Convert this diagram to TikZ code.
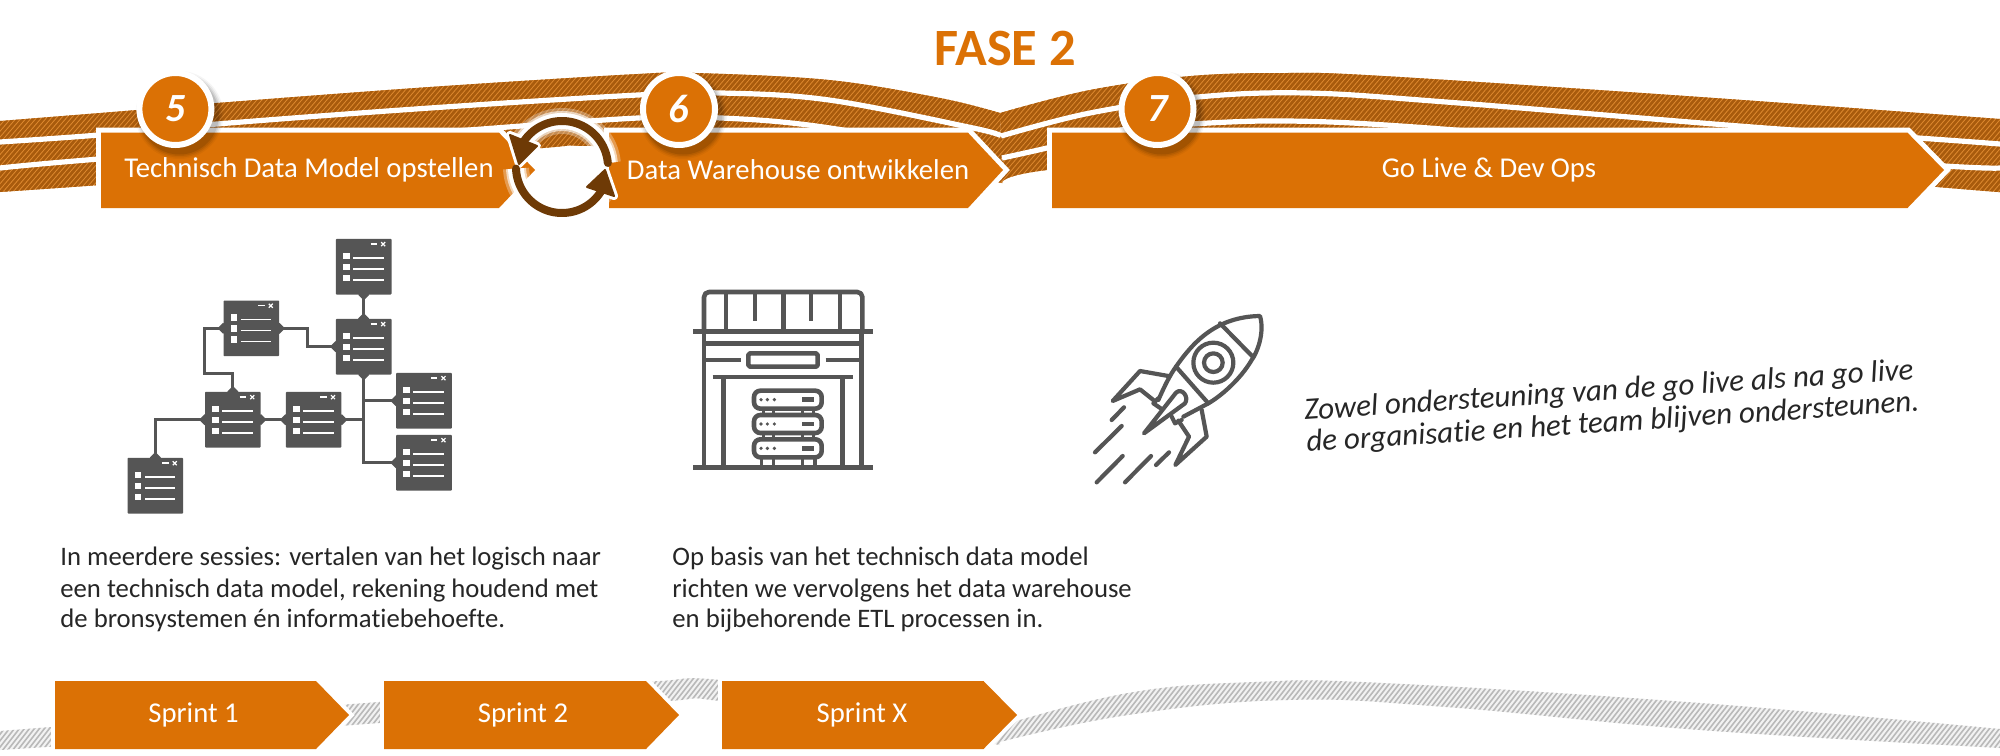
\documentclass[tikz,border=0pt]{standalone}
\usepackage{fontspec}
\setmainfont{Carlito}[Ligatures=NoCommon]
\usetikzlibrary{calc}
\definecolor{org}{HTML}{DB7105}
\definecolor{hatchA}{HTML}{DF8A30}
\definecolor{hatchB}{HTML}{A85B0D}
\definecolor{icn}{HTML}{555555}
\definecolor{cyc}{HTML}{6E3A06}
\definecolor{txt}{HTML}{262626}
\tikzset{
 x=0.5pt,y=-0.5pt,
 chev/.style={preaction={draw=white,line width=5pt,line join=miter},fill=org},
 cheb/.style={text=white,font=\fontsize{14.35}{17}\selectfont,inner sep=0},
 sprint/.style={preaction={draw=white,line width=4pt,line join=miter},fill=org},
 whiteline/.style={draw=white,line width=2.6pt},
 badge/.style={circle,fill=org,draw=white,line width=3pt,minimum size=36pt,inner sep=0,text=white,font=\fontsize{20}{24}\selectfont\bfseries\itshape},
 winbox/.style={fill=icn,draw=none,rounded corners=0.4pt,minimum size=27.8pt,inner sep=0},
 wire/.style={draw=icn,line width=1.5pt},
 para/.style={anchor=base west,text=txt,inner sep=0,font=\fontsize{13.35}{16}\selectfont},
 ital/.style={anchor=base west,text=txt,inner sep=0,rotate=3.8,font=\fontsize{15.5}{18}\selectfont\itshape},
 icline/.style={draw=icn,line width=2.3pt},
 rkline/.style={draw=icn,line width=2.1pt,line cap=round,line join=round},
}
\newcommand{\hatchfill}[3]{%
 \begin{scope}
 \fill[#1] #3;
 \clip #3;
 \foreach \i in {-20,...,420}{\draw[#2,line width=1.35pt] ({\i*5},210) -- ({\i*5+120},70);}
 \end{scope}}
\newcommand{\grayfill}[1]{%
 \begin{scope}
 \fill[gray!10] #1;
 \clip #1;
 \foreach \i in {-20,...,420}{\draw[gray!55,line width=0.8pt] ({\i*5},760) -- ({\i*5+70},670);}
 \end{scope}}
\newcommand{\dbwin}[3]{%
 \node[winbox] (#1) at (#2,#3) {};
 \begin{scope}[shift={(#1.north west)},x=0.16667pt,y=-0.16667pt]
  \draw[white,line width=0.7pt] (105,17) -- (125,17);
  \draw[white,line width=0.6pt] (137,11) -- (149,23) (149,11) -- (137,23);
  \foreach \yy in {42,75,108}{
   \fill[white] (23,\yy) rectangle (43,\yy+20);
   \draw[white,line width=0.7pt] (53,\yy+16) -- (145,\yy+16);
  }
 \end{scope}}
\newcommand{\diam}[1]{\fill[icn] ($(#1)+(-5.5,0)$) -- ($(#1)+(0,-5.5)$) -- ($(#1)+(5.5,0)$) -- ($(#1)+(0,5.5)$) -- cycle;}
\newcommand{\softshadow}[3]{%
 \foreach \rr/\oo in {44/.04,42.5/.06,41/.08,39.5/.10}{\fill[black,opacity=\oo] (#1+#2,#3) circle (\rr);}}
\begin{document}
\begin{tikzpicture}
\useasboundingbox (0,0) rectangle (2000,755);
\fill[white] (0,0) rectangle (2000,755);

% gray ribbon
\grayfill{plot[smooth,tension=.6] coordinates {(0,731)(180,717)(379,702)(560,688)(660,681)(720,680)(900,705)(1000,735)} -- (1000,745) -- plot[smooth,tension=.6] coordinates {(900,730)(720,701)(656,702)(379,723)(180,738)(0,750)} -- cycle}
\grayfill{plot[smooth,tension=.7] coordinates {(1000,726)(1128,693)(1255,682)(1383,683)(1700,703)(2000,729)} -- plot[smooth,tension=.7] coordinates {(2000,748)(1700,730)(1446,707)(1287,700)(1128,715)(1000,742)} -- cycle}

% orange ribbons
\hatchfill{hatchA}{hatchB}{plot[smooth,tension=.6] coordinates {(0,121)(137,110)(217,103)(430,87)(638,74)(695,73)(829,80)(940,98)(1000,113)} -- (1002,183) -- plot[smooth,tension=.6] coordinates {(800,150)(592,146)(543,148)(300,170)(100,185)(0,192)} -- cycle}
\hatchfill{hatchA}{hatchB}{plot[smooth,tension=.6] coordinates {(1000,113)(1090,90)(1191,76)(1287,73)(1383,76)(1700,97)(2000,119)} -- plot[smooth,tension=.6] coordinates {(2000,192)(1937,187)(1500,150)(1290,148)(1047,170)(1002,183)} -- cycle}

% white lines of the ribbons
\draw[whiteline] plot[smooth,tension=.6] coordinates {(0,142)(99,135)(217,124)(430,108)(638,95)(721,93)(829,100)(973,128)(1001,136)};
\draw[whiteline] plot[smooth,tension=.6] coordinates {(1001,136)(1090,113)(1198,97)(1306,93)(1446,102)(1752,127)(1918,138)(2000,144)};
\draw[whiteline] plot[smooth,tension=.6] coordinates {(0,168)(99,159)(430,133)(638,118)(721,118)(816,126)(960,150)};
\draw[whiteline] plot[smooth,tension=.6] coordinates {(1002,158)(1047,148)(1121,130)(1191,124)(1287,121)(1415,127)(1700,150)(1944,166)(2000,168)};

% main chevrons
\path[chev] (101,132.7) -- (499,132.7) -- (535,170) -- (499,208) -- (101,208) -- cycle;
\path[chev] (609,132.7) -- (968,132.7) -- (1003,170) -- (968,208) -- (609,208) -- cycle;
\path[chev] (1052,132.7) -- (1907.5,132.7) -- (1944,170) -- (1907.5,208) -- (1052,208) -- cycle;
\node[cheb] (t5) at (309,170) {Technisch Data Model opstellen};
\node[cheb] (t6) at (798,170) {Data Warehouse ontwikkelen};
\node[cheb] (t7) at (1489,170) {Go Live \& Dev Ops};

% cycle icon
\foreach \cw/\co in {26/.3,20/.6,16/1}{
 \draw[white,opacity=\co,line width=\cw*0.5pt] plot[domain=-5:-147,samples=40] ({562+46*cos(\x)},{167+46*sin(\x)});
 \draw[white,opacity=\co,line width=\cw*0.5pt] plot[domain=178:33,samples=40] ({562+46*cos(\x)},{167+46*sin(\x)});
}
\draw[white,fill=white,line width=4pt,line join=round] (510,135) -- (537,146) -- (519,164) -- cycle (587,187) -- (614,196) -- (605,170) -- cycle;
\draw[cyc,line width=4pt,line cap=round] plot[domain=-5:-147,samples=40] ({562+46*cos(\x)},{167+46*sin(\x)});
\draw[cyc,line width=4pt,line cap=round] plot[domain=178:33,samples=40] ({562+46*cos(\x)},{167+46*sin(\x)});
\fill[cyc,draw=cyc,line width=1pt,line join=round] (510,135) -- (537,146) -- (519,164) -- cycle (587,187) -- (614,196) -- (605,170) -- cycle;

% badges
\softshadow{175.4}{4}{115}
\softshadow{679}{4}{115}
\softshadow{1157.5}{4}{115}
\node[badge] (b5) at (175.4,109) {5};
\node[badge] (b6) at (679,109) {6};
\node[badge] (b7) at (1157.5,109) {7};

% title
\node[text=org,inner sep=0,font=\fontsize{26.2}{30}\selectfont\bfseries] (title) at (1005,48) {FASE 2};

% data model icon
\dbwin{A}{363.7}{266.7}
\dbwin{B}{363.7}{346.7}
\dbwin{C}{251.3}{328.3}
\dbwin{D}{232.8}{419.7}
\dbwin{E}{313.6}{419.7}
\dbwin{F}{424}{400.7}
\dbwin{G}{424}{462.7}
\dbwin{H}{155.3}{485.7}
\draw[wire] (A.south) -- (B.north);
\draw[wire] (C.west) -- ++(-18.5,0) |- ($(D.north)+(0,-18)$) -- (D.north);
\draw[wire] (C.east) -- ++(27.5,0) |- (B.west);
\draw[wire] (D.east) -- (E.west);
\draw[wire] (D.west) -| (H.north);
\draw[wire] (B.south) |- (G.west);
\draw[wire] (E.east) -- (B.south |- E.east);
\draw[wire] (B.south |- F.west) -- (F.west);
\diam{A.south}\diam{B.north}\diam{B.south}\diam{B.west}\diam{C.west}\diam{C.east}\diam{D.north}\diam{D.east}\diam{D.west}\diam{E.west}\diam{E.east}\diam{F.west}\diam{G.west}\diam{H.north}

% warehouse icon
\begin{scope}[shift={(680,270)},x=0.16667pt,y=-0.16667pt,line join=round]
 \draw[icline,rounded corners=2.5pt] (72,185) -- (72,66) -- (547,66) -- (547,185);
 \draw[icline] (138,66) -- (138,185) (310,66) -- (310,185) (480,66) -- (480,185) (225,66) -- (225,152) (393,66) -- (393,152);
 \draw[icline] (40,185) -- (578,185) (72,220) -- (545,220) (72,185) -- (72,590) (545,185) -- (545,590);
 \draw[icline] (72,270) -- (182,270) (437,270) -- (545,270);
 \draw[icline,rounded corners=0.8pt] (205,250) rectangle (413,290);
 \draw[icline] (98,321) -- (520,321) (131,321) -- (131,590) (487,321) -- (487,590) (40,592) -- (578,592);
 \foreach \yy in {362,435,508}{
  \draw[icline,rounded corners=3.2pt] (222,\yy) rectangle (425,\yy+54);
  \foreach \xx in {243,262,283}{\fill[icn] (\xx,\yy+27) circle (5.5);}
  \fill[icn] (365,\yy+20) rectangle (403,\yy+34);
 }
 \draw[icline,line width=1.6pt] (250,416) -- (250,435) (280,416) -- (280,435) (368,416) -- (368,435) (400,416) -- (400,435) (250,489) -- (250,508) (280,489) -- (280,508) (368,489) -- (368,508) (400,489) -- (400,508) (244,562) -- (244,590) (280,562) -- (280,590) (368,562) -- (368,590) (405,562) -- (405,590);
\end{scope}

% rocket icon
\begin{scope}[shift={(1070,300)},x=0.16667pt,y=-0.16667pt]
 \draw[rkline] (265,300) .. controls (285,255) and (300,225) .. (318,200) .. controls (370,125) and (440,50) .. (570,48) .. controls (585,100) and (560,160) .. (545,180) .. controls (510,240) and (450,290) .. (415,310) -- (340,350);
 \draw[rkline] (450,70) -- (548,170) (318,200) -- (415,310);
 \draw[rkline] (430,188) circle (60) (430,188) circle (28);
 \draw[rkline] (295,228) -- (210,213) -- (128,303) -- (210,268) -- (250,300);
 \draw[rkline] (395,330) -- (410,410) -- (316,495) -- (357,410) -- (325,362);
 \draw[rkline] (222,400) -- (318,278) .. controls (335,262) and (358,290) .. (345,310) -- cycle;
 \draw[rkline] (265,295) -- (250,310) -- (272,325) (305,350) -- (315,370) -- (335,360);
 \draw[rkline] (125,360) -- (162,322) (75,457) -- (155,378) (80,547) -- (158,468) (165,547) -- (243,468) (258,495) -- (297,457);
\end{scope}

% paragraphs
\node[para] (p1a) at (60,565) {In meerdere sessies: vertalen van het logisch naar};
\node[para] (p1b) at (60,597) {een technisch data model, rekening houdend met};
\node[para] (p1c) at (60,627) {de bronsystemen én informatiebehoefte.};
\node[para] (p2a) at (672,565) {Op basis van het technisch data model};
\node[para] (p2b) at (672,597) {richten we vervolgens het data warehouse};
\node[para] (p2c) at (672,627) {en bijbehorende ETL processen in.};
\node[ital] (i1) at (1304.5,420) {Zowel ondersteuning van de go live als na go live};
\node[ital] (i2) at (1306.6,452) {de organisatie en het team blijven ondersteunen.};

% sprint chevrons
\path[sprint] (55,681) -- (316,681) -- (349,715) -- (316,749) -- (55,749) -- cycle;
\path[sprint] (384,681) -- (646,681) -- (679,715) -- (646,749) -- (384,749) -- cycle;
\path[sprint] (722,681) -- (983.5,681) -- (1017,715) -- (983.5,749) -- (722,749) -- cycle;
\node[cheb] (s1) at (193.6,715) {Sprint 1};
\node[cheb] (s2) at (523,715) {Sprint 2};
\node[cheb] (s3) at (862,715) {Sprint X};
\end{tikzpicture}
\end{document}
